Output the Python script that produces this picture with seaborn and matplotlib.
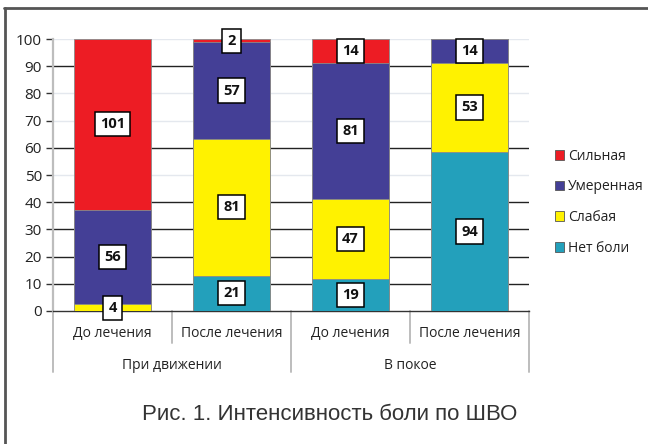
import numpy as np
import pandas as pd
import matplotlib
matplotlib.use("Agg")
import matplotlib.pyplot as plt
from matplotlib.patches import Patch
import seaborn as sns

# Pain intensity (VAS) — patient counts per category
conditions = ["До лечения", "После лечения", "До лечения", "После лечения"]
groups = ["При движении", "В покое"]
levels = ["Нет боли", "Слабая", "Умеренная", "Сильная"]
no_pain = [0, 21, 19, 94]
mild = [4, 81, 47, 53]
moderate = [56, 57, 81, 14]
severe = [101, 2, 14, 0]
level_colors = ["#23A0BB", "#FFF200", "#443F96", "#ED1C24"]
yticks = [0, 10, 20, 30, 40, 50, 60, 70, 80, 90, 100]

counts = np.array([no_pain, mild, moderate, severe], dtype=float)
totals = counts.sum(axis=0)
pct = counts / totals * 100
cum = np.cumsum(pct, axis=0)

sns.set_theme(style="white")
plt.rcParams["font.family"] = ["Open Sans", "DejaVu Sans"]

fig = plt.figure(figsize=(6.48, 4.44), dpi=100)
ax = fig.add_axes([53 / 648, 1 - 311 / 444, 476 / 648, 272 / 444])

xpos = list(range(len(conditions)))
# stacked 100% bars: draw cumulative tops from the highest layer down
for i in range(len(levels) - 1, -1, -1):
    df = pd.DataFrame({"x": xpos, "y": cum[i]})
    sns.barplot(data=df, x="x", y="y", color=level_colors[i], width=0.655,
                edgecolor="#8a8a8a", linewidth=0.6, saturation=1, ax=ax,
                order=xpos, zorder=3)

# value labels in boxes
for i in range(len(levels)):
    for j in xpos:
        if counts[i, j] <= 0:
            continue
        mid = cum[i, j] - pct[i, j] / 2
        ax.text(j, mid, f"{int(counts[i, j])}", ha="center", va="center",
                fontsize=10.5, fontweight="bold", color="#111111", zorder=5,
                bbox=dict(boxstyle="square,pad=0.35", fc="white", ec="black", lw=1.1),
                clip_on=False)

ax.set_xlim(-0.5, 3.5)
ax.set_ylim(0, 100)
ax.set_yticks(yticks)
ax.set_yticklabels([str(t) for t in yticks], fontsize=11, color="#222222")
ax.set_xticks([])
ax.set_xlabel("")
ax.set_ylabel("")

# horizontal gridlines
grid_dark = {10, 20, 30, 40, 60, 90}
for t in yticks[1:]:
    ax.axhline(t, color="#222222" if t in grid_dark else "#e4e8ee",
               lw=1.0, zorder=1)
ax.tick_params(axis="y", length=5, width=1.0, color="#333333", pad=3, left=True)

for s in ["top", "right"]:
    ax.spines[s].set_visible(False)
ax.spines["left"].set_color("#bdbdbd")
ax.spines["left"].set_linewidth(1.6)
ax.spines["bottom"].set_color("#333333")
ax.spines["bottom"].set_linewidth(1.0)

# two-level category axis
tr = ax.get_xaxis_transform()
for j, name in enumerate(conditions):
    ax.text(j, -0.081, name, transform=tr, ha="center", va="center",
            fontsize=10, color="#222222")
for g, name in enumerate(groups):
    ax.text(2 * g + 0.5, -0.199, name, transform=tr, ha="center", va="center",
            fontsize=10, color="#222222")
for xb in [-0.5, 1.5, 3.5]:
    ax.plot([xb, xb], [0, -0.224], transform=tr, color="#bdbdbd", lw=1.4,
            clip_on=False)
for xb in [0.5, 2.5]:
    ax.plot([xb, xb], [0, -0.118], transform=tr, color="#bdbdbd", lw=1.4,
            clip_on=False)

# legend, strongest first
handles = [Patch(facecolor=level_colors[i], edgecolor="#555555", lw=0.6)
           for i in range(len(levels) - 1, -1, -1)]
labels = [levels[i] for i in range(len(levels) - 1, -1, -1)]
fig.legend(handles, labels, loc="upper left", bbox_to_anchor=(549 / 648, 1 - 143 / 444),
           frameon=False, fontsize=10, handlelength=0.7, handleheight=0.7,
           handletextpad=0.25, labelspacing=1.13, borderaxespad=0,
           labelcolor="#222222")

# caption
fig.text(330 / 648, 1 - 414 / 444, "Рис. 1. Интенсивность боли по ШВО",
         ha="center", va="center", fontsize=16, color="#333333",
         family=["Liberation Sans", "DejaVu Sans"])

# outer frame (top and left edges)
fig.add_artist(plt.Line2D([4.5 / 648, 4.5 / 648], [0, 1 - 8.5 / 444],
                          transform=fig.transFigure, color="#555555", lw=2))
fig.add_artist(plt.Line2D([4 / 648, 1], [1 - 8.5 / 444, 1 - 8.5 / 444],
                          transform=fig.transFigure, color="#555555", lw=2))

fig.savefig("out.png", dpi=100)
